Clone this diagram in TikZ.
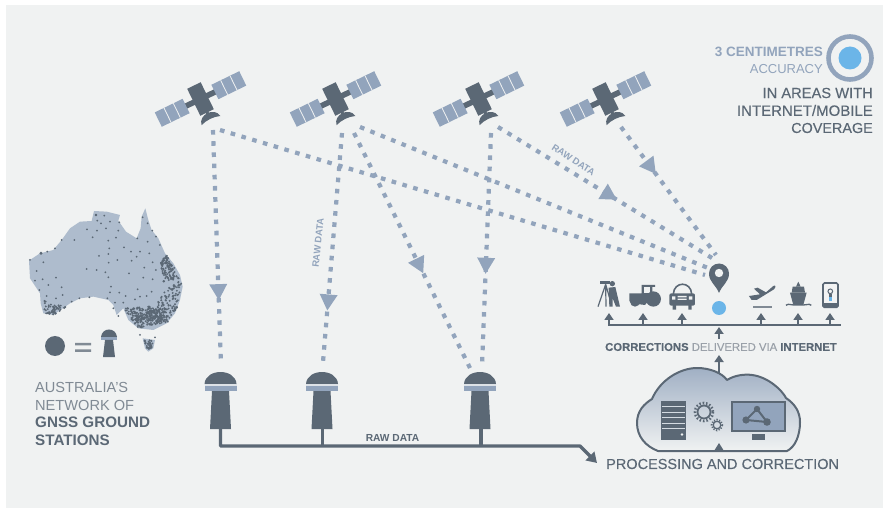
\documentclass[tikz,border=0pt]{standalone}
\usepackage{fontspec}
\setmainfont{Liberation Sans}
\newfontfamily\semib[FakeBold=0.25]{Liberation Sans}
\usetikzlibrary{arrows.meta,decorations.markings,shadings}
\definecolor{bgc}{HTML}{F0F2F2}
\definecolor{dk}{HTML}{5B6875}
\definecolor{lt}{HTML}{92A4BC}
\definecolor{mapc}{HTML}{AEBCCD}
\definecolor{blu}{HTML}{6BB5E8}
\definecolor{gry}{HTML}{808A94}
\tikzset{
  dashline/.style={draw=lt,line width=4.2pt,dash pattern=on 4.6pt off 6.6pt},
  arrowat/.style={postaction={decorate,decoration={markings,mark=at position #1 with {\fill[lt,solid] (8pt,0)--(-8pt,9pt)--(-8pt,-9pt)--cycle;}}}},
  bus/.style={draw=dk,line width=3.4pt},
  up/.style={draw=dk,line width=2pt,-{Triangle[width=9pt,length=7pt]}},
  lab/.style={inner sep=0pt,text=dk},
  tiny/.style={inner sep=0pt,font=\bfseries\fontsize{9.4}{10}\selectfont,text=lt},
}
\newcommand{\satellite}[1]{%
  \begin{scope}[shift={(#1)},rotate=26]
    \fill[dk] (-30,-2.8) rectangle (30,2.8);
    \fill[lt] (-47,-8) rectangle (-16,8);
    \fill[lt] (16,-8) rectangle (47,8);
    \draw[bgc,line width=.8pt] (-36.7,-8)--(-36.7,8) (-26.3,-8)--(-26.3,8) (26.3,-8)--(26.3,8) (36.7,-8)--(36.7,8);
    \fill[dk] (-7.5,-15) rectangle (7.5,15);
    \fill[dk] (-10.5,24) .. controls (-9,13) and (9,13) .. (10.5,24) .. controls (4,21.5) and (-4,21.5) .. (-10.5,24) -- cycle;
    \fill[dk] (-1.5,13) rectangle (1.5,18);
  \end{scope}}
\newcommand{\station}[1]{%
  \begin{scope}[shift={(#1)}]
    \fill[dk] (-16,384) .. controls (-15,368) and (15,368) .. (16,384) -- cycle;
    \fill[lt] (-16,384) rectangle (16,391);
    \fill[bgc!80!lt] (-16,384.3) rectangle (16,385.6);
    \fill[dk] (-8.5,391) -- (8.5,391) -- (10.5,429) -- (-10.5,429) -- cycle;
  \end{scope}}
\newcommand{\quaddots}[9]{% N, ax,ay, bx,by, cx,cy, dx,dy
  \foreach \k in {1,...,#1}{%
    \pgfmathsetmacro{\uu}{rnd}\pgfmathsetmacro{\vv}{rnd}%
    \pgfmathsetmacro{\px}{(1-\vv)*((1-\uu)*#2+\uu*#4)+\vv*((1-\uu)*#8+\uu*#6)}%
    \pgfmathsetmacro{\py}{(1-\vv)*((1-\uu)*#3+\uu*#5)+\vv*((1-\uu)*#9+\uu*#7)}%
    \fill[dk] (\px,\py) circle (3.2);}}
\begin{document}
\begin{tikzpicture}[x=1pt,y=-1pt]
\useasboundingbox (0,0) rectangle (883,510);
\fill[white] (0,0) rectangle (883,510);
\fill[bgc] (6,5) rectangle (883,508);

% map
\begin{scope}[shift={(20,200)},x=.3333pt,y=-.3333pt]
  \fill[mapc] (27,182) -- (60,160) -- (100,150) -- (125,120) -- (150,85) -- (180,65) -- (215,63) -- (222,33) -- (260,35) -- (300,45) -- (295,62) -- (318,95) -- (350,115) -- (362,85) -- (365,50) -- (376,25) -- (385,60) -- (395,90) -- (415,115) -- (435,160) -- (460,190) -- (480,225) -- (488,260) -- (480,300) -- (465,340) -- (440,370) -- (400,390) -- (355,385) -- (325,360) -- (310,325) -- (290,345) -- (280,315) -- (265,300) -- (220,290) -- (180,295) -- (150,310) -- (100,345) -- (70,340) -- (62,310) -- (60,280) -- (30,235) -- cycle;
  \fill[mapc] (368,415) -- (405,420) -- (400,445) -- (385,455) -- (375,445) -- cycle;
  \pgfmathsetseed{42}
  \foreach \a/\b in {228/45,253/47,298/67,270/65,232/62,243/70,201/88,231/92,258/85,295/92,218/112,265/122,288/113,352/115,383/125,368/52,383/70,397/92,408/110,420/135,163/120,125/120,105/145,82/155,63/160,30/180,70/187,50/213,45/242,68/238,108/233,58/270,85/255,125/262,128/285,108/295,80/288,200/207,230/210,256/217,265/232,237/168,265/162,268/145,266/188,292/180,312/142,333/155,360/155,388/160,350/170,335/182,398/187,373/203,408/210,327/220,370/233,398/238,273/260,270/277,298/278,353/268,317/288,262/295,208/292,178/295,155/305,285/308,310/308,345/298,360/290,395/275,380/288,360/405,405/412,295/348,280/325}
    {\fill[dk] (\a,\b) circle (3);}
  \fill[dk] (63,160) circle (5) (228,45) circle (4);
  \quaddots{110}{440}{165}{482}{235}{430}{245}{422}{185}
  \quaddots{75}{485}{240}{475}{320}{395}{330}{440}{265}
  \quaddots{130}{475}{320}{440}{370}{335}{360}{395}{330}
  \quaddots{210}{445}{365}{355}{385}{310}{325}{390}{320}
  \quaddots{55}{70}{300}{140}{320}{100}{345}{70}{338}
  \quaddots{30}{372}{418}{400}{422}{395}{445}{382}{450}
\end{scope}
\fill[dk] (55,346) circle (10);
\fill[gry] (75,343) rectangle (91,345.5) (75,349.5) rectangle (91,352);
\begin{scope}[shift={(109,0)}]
  \fill[dk] (-8,337) .. controls (-7,327) and (7,327) .. (8,337) -- cycle;
  \fill[lt] (-8,337) rectangle (8,340);
  \fill[dk] (-4,340) -- (4,340) -- (6,357) -- (-6,357) -- cycle;
\end{scope}
\node[lab,anchor=west,text=gry,font=\fontsize{14.6}{15}\selectfont] (t1) at (35,387) {AUSTRALIA'S};
\node[lab,anchor=west,text=gry,font=\fontsize{14.6}{15}\selectfont] (t2) at (35,405) {NETWORK OF};
\node[lab,anchor=west,font=\bfseries\fontsize{15.2}{15}\selectfont] (t3) at (35,422.5) {GNSS GROUND};
\node[lab,anchor=west,font=\bfseries\fontsize{15.2}{15}\selectfont] (t4) at (35,440) {STATIONS};

% satellites and stations
\coordinate (sat1) at (200.5,99); \coordinate (sat2) at (335.5,99);
\coordinate (sat3) at (478.5,99); \coordinate (sat4) at (605.5,99);
\foreach \n in {sat1,sat2,sat3,sat4} {\satellite{\n}}
\coordinate (st1) at (220.5,0); \coordinate (st2) at (322,0); \coordinate (st3) at (480,0);
\foreach \n in {st1,st2,st3} {\station{\n}}

% endpoints
\coordinate (a1) at (213,130); \coordinate (b1) at (221,365);
\coordinate (a2) at (220,130); \coordinate (b2) at (705,275);
\coordinate (a3) at (342,133); \coordinate (b3) at (323,362);
\coordinate (a4) at (354,133); \coordinate (b4) at (470,368);
\coordinate (a5) at (360,127); \coordinate (b5) at (708,268);
\coordinate (a6) at (491,133); \coordinate (b6) at (482,366);
\coordinate (a7) at (498,127); \coordinate (b7) at (712,258);
\coordinate (a8) at (621,127); \coordinate (b8) at (716,255);
\draw[dashline,arrowat=.69] (a1)--(b1);
\draw[dashline] (a2)--(b2);
\draw[dashline,arrowat=.74] (a3)--(b3);
\draw[dashline,arrowat=.566] (a4)--(b4);
\draw[dashline] (a5)--(b5);
\draw[dashline,arrowat=.57] (a6)--(b6);
\draw[dashline,arrowat=.523] (a7)--(b7);
\draw[dashline,arrowat=.316] (a8)--(b8);
\node[tiny,rotate=84] (rd1) at (318,243) {RAW DATA};
\node[tiny,rotate=-33] (rd2) at (573.5,160) {RAW DATA};

% ground bus
\coordinate (g1) at (220.5,429); \coordinate (g2) at (322.5,429); \coordinate (g3) at (481,429);
\coordinate (j1) at (220.5,446); \coordinate (j2) at (322.5,446); \coordinate (j3) at (481,446);
\coordinate (bend) at (580,446); \coordinate (gend) at (597,463);
\draw[bus,line join=round,-{Triangle[width=12pt,length=10pt]}] (g1)--(j1)--(bend)--(gend);
\draw[bus] (g2)--(j2) (g3)--(j3);
\node[tiny,text=dk,font=\bfseries\fontsize{10.2}{10}\selectfont] (rd3) at (392.5,438) {RAW DATA};

% pin
\fill[dk] (719,293) .. controls (716,285) and (709,282) .. (709,273.5) arc[start angle=180,end angle=360,radius=10] .. controls (729,282) and (722,285) .. (719,293) -- cycle;
\fill[bgc] (719,273) circle (4.2);
\fill[blu] (719,308) circle (7);

% user line
\draw[dk,line width=2.2pt] (608,325) -- (841,325);
\foreach \x in {609,643,682,761,798,830} {
  \coordinate (ua\x) at (\x,325); \coordinate (ub\x) at (\x,313);
  \draw[up] (ua\x)--(ub\x);
}
\coordinate (c1) at (719,339); \coordinate (c2) at (719,327);
\draw[up] (c1)--(c2);
\coordinate (c3) at (719,376); \coordinate (c4) at (719,355);
\draw[up] (c3)--(c4);
\node[inner sep=0pt,font=\semib\fontsize{11.3}{11}\selectfont,text=gry!80!white] (dl) at (721,347) {\textcolor{dk}{\textbf{CORRECTIONS}} DELIVERED VIA \textcolor{dk}{\textbf{INTERNET}}};

% cloud
\path[top color=lt!85!bgc,bottom color=bgc,draw=dk,line width=2pt,line join=round]
 (658,451) .. controls (645,446) and (637,436) .. (637,423) .. controls (637,411) and (644,404) .. (652,399)
 .. controls (660,380) and (680,368) .. (697,368) .. controls (710,368) and (722,373) .. (727,380)
 .. controls (735,375) and (745,374) .. (752,375) .. controls (768,377) and (782,390) .. (786,398)
 .. controls (795,404) and (800,412) .. (800,422) .. controls (800,436) and (795,447) .. (787,451) -- cycle;
\fill[dk] (714,451) -- (719,443) -- (724,451) -- cycle;
\fill[dk] (661,401) rectangle (686,440);
\foreach \y in {406,411.5,417,422.5,428} {\fill[bgc!70!lt] (662,\y) rectangle (685,\y+1.3);}
\fill[bgc] (682,434.5) circle (1.4);
\draw[dk,line width=1.8pt] (704,412) circle (6.5);
\draw[dk,line width=2.6pt,dash pattern=on 1.5pt off 1.9pt] (704,412) circle (9);
\draw[dk,line width=1.3pt] (717,425) circle (3.8);
\draw[dk,line width=1.8pt,dash pattern=on 1.2pt off 1.5pt] (717,425) circle (5.4);
\fill[lt] (732,402) rectangle (785,431);
\draw[dk,line width=2.4pt] (732,402) rectangle (785,431);
\fill[dk] (752,434) rectangle (765,440);
\draw[dk,line width=2pt] (757,409) -- (746,420) -- (767,422) -- cycle;
\fill[dk] (757,409) circle (3.2) (746,420) circle (3.6) (767,422) circle (3.8);
\node[lab,anchor=west,font=\semib\fontsize{14.5}{15}\selectfont] (pc) at (606,464) {PROCESSING AND CORRECTION};

% user icons, in 3x zoom units
\begin{scope}[shift={(590,275)},x=.3333pt,y=-.3333pt]
  % surveyor
  \draw[dk,line width=1.2pt] (47,28) -- (24,95) (47,28) -- (48,95) (47,28) -- (62,80);
  \fill[dk] (30,18) rectangle (60,28);
  \fill[dk] (67,26) circle (8);
  \fill[dk] (56,38) -- (76,36) -- (90,95) -- (78,95) -- (68,70) -- (68,95) -- (58,95) -- cycle;
  % tractor
  \fill[dk] (155,30) -- (195,30) -- (195,36) -- (187,36) -- (187,55) -- (190,60) -- (165,90) -- (125,85) -- (118,78) -- (118,55) -- (155,55) -- cycle;
  \fill[bgc] (161,37) -- (180,37) -- (180,55) -- (161,55) -- cycle;
  \fill[dk] (190,72) circle (23);
  \fill[dk] (135,80) circle (15);
  % car
  \draw[dk,line width=1.6pt] (250,57) .. controls (252,18) and (303,18) .. (305,57);
  \fill[dk,rounded corners=2pt] (238,55) rectangle (315,92);
  \fill[dk] (248,88) rectangle (258,104) (295,88) rectangle (305,104);
  \fill[bgc] (246,64) rectangle (256,74) (297,64) rectangle (307,74);
  \fill[bgc] (263,63) rectangle (290,67) (263,71) rectangle (290,75);
\end{scope}
\begin{scope}[shift={(590,250)},x=.3333pt,y=-.3333pt]
  % plane
  \fill[dk] (477,138) -- (510,133) -- (492,116) -- (503,113) -- (528,127) -- (550,108) .. controls (558,103) and (558,112) .. (552,118) -- (500,150) -- (485,150) -- cycle;
  \fill[gry] (488,168) rectangle (545,174);
  % ship
  \fill[dk] (600,128) -- (650,128) -- (640,165) -- (610,165) -- cycle;
  \fill[dk] (608,110) -- (642,110) -- (645,128) -- (605,128) -- cycle;
  \fill[dk] (625,95) -- (632,110) -- (618,110) -- cycle;
  \draw[dk,line width=1.3pt] (588,166) .. controls (598,158) and (602,168) .. (612,165) -- (640,165) .. controls (650,168) and (654,158) .. (664,166);
  % phone
  \draw[dk,line width=1.7pt,rounded corners=1.5pt,fill=bgc!90!white] (699,99) rectangle (744,172);
  \fill[dk] (699,160) rectangle (744,172);
  \draw[dk,line width=1pt] (721,124) circle (7);
  \fill[dk] (717,131) rectangle (725,140);
  \fill[blu] (717,142) rectangle (725,152);
\end{scope}

% accuracy
\draw[lt,line width=4.6pt] (850,58) circle (21.5);
\fill[blu] (850,58) circle (11.5);
\node[inner sep=0pt,anchor=east,font=\bfseries\fontsize{13.5}{14}\selectfont,text=lt] (ac1) at (823,52) {3 CENTIMETRES};
\node[inner sep=0pt,anchor=east,font=\fontsize{13}{14}\selectfont,text=lt] (ac2) at (823,69) {ACCURACY};
\node[lab,anchor=east,font=\semib\fontsize{14.7}{15}\selectfont] (cv1) at (873,93) {IN AREAS WITH};
\node[lab,anchor=east,font=\semib\fontsize{15}{15}\selectfont] (cv2) at (873,110.5) {INTERNET/MOBILE};
\node[lab,anchor=east,font=\semib\fontsize{14.4}{15}\selectfont] (cv3) at (873,128) {COVERAGE};
\end{tikzpicture}
\end{document}
